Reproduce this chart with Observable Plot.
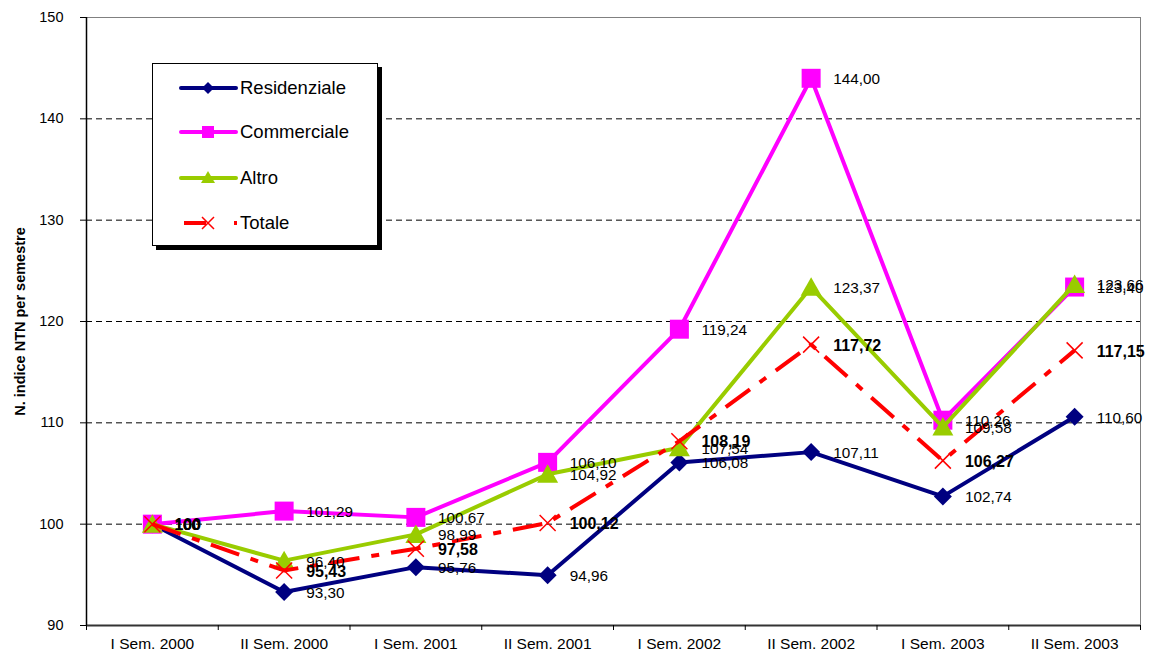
<!DOCTYPE html>
<html>
<head>
<meta charset="utf-8">
<script src="https://cdn.jsdelivr.net/npm/d3@7"></script>
<script src="https://cdn.jsdelivr.net/npm/@observablehq/plot@0.6"></script>
<style>
  html, body { margin: 0; padding: 0; background: #fff; }
  #wrap { position: relative; width: 1151px; height: 658px; font-family: "Liberation Sans", Arial, sans-serif; }
  #legend { position: absolute; left: 152px; top: 63px; width: 224px; height: 181px; border: 1px solid #000; background: #fff; box-shadow: 4px 4px 0 #000; }
  #legend .row { position: absolute; left: 0; height: 30px; display: flex; align-items: center; }
  #legend .row span { font-size: 18.5px; color: #000; margin-left: 1px; }
</style>
</head>
<body>
<div id="wrap"><div id="legend"></div></div>
<script>
const categories = ["I Sem. 2000","II Sem. 2000","I Sem. 2001","II Sem. 2001","I Sem. 2002","II Sem. 2002","I Sem. 2003","II Sem. 2003"];
const residenziale = [100, 93.30, 95.76, 94.96, 106.08, 107.11, 102.74, 110.60];
const commerciale = [100, 101.29, 100.67, 106.10, 119.24, 144.00, 110.26, 123.40];
const altro = [100, 96.40, 98.99, 104.92, 107.54, 123.37, 109.58, 123.66];
const totale = [100, 95.43, 97.58, 100.12, 108.19, 117.72, 106.27, 117.15];
const seriesNames = ["Residenziale", "Commerciale", "Altro", "Totale"];
const yTicks = [90, 100, 110, 120, 130, 140, 150];
const gridTicks = [100, 110, 120, 130, 140];

const fmt = v => v === 100 ? "100" : v.toFixed(2).replace(".", ",");

// custom symbols (size = pi r^2)
const rOf = s => Math.sqrt(s / Math.PI);
const diamondSym = {draw(c, s) { const r = rOf(s); c.moveTo(0, -r); c.lineTo(r, 0); c.lineTo(0, r); c.lineTo(-r, 0); c.closePath(); }};
const squareSym = {draw(c, s) { const r = rOf(s); c.rect(-r, -r, 2 * r, 2 * r); }};
const triangleSym = {draw(c, s) { const r = rOf(s); c.moveTo(0, -r); c.lineTo(r * 1.05, r * 0.85); c.lineTo(-r * 1.05, r * 0.85); c.closePath(); }};
const timesSym = {draw(c, s) { const r = rOf(s); c.moveTo(-r, -r); c.lineTo(r, r); c.moveTo(r, -r); c.lineTo(-r, r); }};

const toRows = arr => arr.map((v, i) => ({i, v}));
const resRows = toRows(residenziale), comRows = toRows(commerciale), altRows = toRows(altro), totRows = toRows(totale);

const boundaries = d3.range(-0.5, categories.length, 1);

const chart = Plot.plot({
  width: 1151,
  height: 658,
  marginLeft: 86,
  marginRight: 11,
  marginTop: 17,
  marginBottom: 33,
  style: {fontFamily: "'Liberation Sans', Arial, sans-serif", fontSize: "15px", color: "#000", background: "#fff"},
  x: {type: "linear", domain: [-0.5, categories.length - 0.5]},
  y: {domain: [90, 150]},
  marks: [
    Plot.ruleY(gridTicks, {stroke: "#000", strokeWidth: 1, strokeDasharray: "6,4"}),
    Plot.frame({stroke: "#808080", strokeWidth: 1}),
    Plot.ruleY([90], {stroke: "#333", strokeWidth: 2}),
    Plot.ruleX([-0.5], {stroke: "#000", strokeWidth: 1.5}),
    Plot.axisY({ticks: yTicks, tickSize: 6, tickPadding: 17, label: null, fontSize: 14.5}),
    Plot.axisX({ticks: boundaries, tickSize: 5, tickFormat: () => "", label: null}),
    Plot.axisX({ticks: d3.range(categories.length), tickSize: 0, tickPadding: 12, tickFormat: i => categories[i], label: null, fontSize: 15.5}),
    Plot.text(["N. indice NTN per semestre"], {frameAnchor: "left", textAnchor: "middle", rotate: -90, dx: -66, dy: 0, fontWeight: "bold", fontSize: 14.5}),
    // lines
    Plot.line(resRows, {x: "i", y: "v", stroke: "#000080", strokeWidth: 4}),
    Plot.dot(resRows, {x: "i", y: "v", symbol: diamondSym, r: 9, fill: "#000080", stroke: "none"}),
    Plot.line(comRows, {x: "i", y: "v", stroke: "#FF00FF", strokeWidth: 4}),
    Plot.dot(comRows, {x: "i", y: "v", symbol: squareSym, r: 9.5, fill: "#FF00FF", stroke: "none"}),
    Plot.line(altRows, {x: "i", y: "v", stroke: "#99CC00", strokeWidth: 4}),
    Plot.dot(altRows, {x: "i", y: "v", symbol: triangleSym, r: 10, fill: "#99CC00", stroke: "none"}),
    Plot.line(totRows, {x: "i", y: "v", stroke: "#FF0000", strokeWidth: 4, strokeDasharray: "30,12,8,12", strokeLinecap: "butt"}),
    Plot.dot(totRows, {x: "i", y: "v", symbol: timesSym, r: 8, fill: "none", stroke: "#FF0000", strokeWidth: 1.5}),
    // labels
    Plot.text(resRows, {x: "i", y: "v", text: d => fmt(d.v), textAnchor: "start", dx: 22, dy: 1, fill: "#000", fontSize: 15.3}),
    Plot.text(comRows, {x: "i", y: "v", text: d => fmt(d.v), textAnchor: "start", dx: 22, dy: 1, fill: "#000", fontSize: 15.3}),
    Plot.text(altRows, {x: "i", y: "v", text: d => fmt(d.v), textAnchor: "start", dx: 22, dy: 1, fill: "#000", fontSize: 15.3}),
    Plot.text(totRows, {x: "i", y: "v", text: d => fmt(d.v), textAnchor: "start", dx: 22, dy: 1, fill: "#000", fontSize: 16, fontWeight: "bold"})
  ]
});
chart.style.position = "absolute";
chart.style.left = "0px";
chart.style.top = "0px";
const wrap = document.getElementById("wrap");
wrap.insertBefore(chart, wrap.firstChild);

// legend
const legendSpecs = [
  {name: seriesNames[0], color: "#000080", sym: "diamond"},
  {name: seriesNames[1], color: "#FF00FF", sym: "square"},
  {name: seriesNames[2], color: "#99CC00", sym: "triangle"},
  {name: seriesNames[3], color: "#FF0000", sym: "times"}
];
const rowTops = [9, 53, 99, 144];
const legend = d3.select("#legend");
legendSpecs.forEach((s, k) => {
  const row = legend.append("div").attr("class", "row").style("top", rowTops[k] + "px");
  const svg = row.append("svg").attr("width", 86).attr("height", 30);
  const cy = 15, cx = 55;
  const line = svg.append("line").attr("x1", 28).attr("x2", 83).attr("y1", cy).attr("y2", cy)
    .attr("stroke", s.color).attr("stroke-width", 4).attr("stroke-linecap", "round");
  if (s.sym === "diamond") {
    svg.append("path").attr("d", `M${cx},${cy-6}L${cx+6},${cy}L${cx},${cy+6}L${cx-6},${cy}Z`).attr("fill", s.color);
  } else if (s.sym === "square") {
    svg.append("rect").attr("x", cx - 6).attr("y", cy - 6).attr("width", 12).attr("height", 12).attr("fill", s.color);
  } else if (s.sym === "triangle") {
    svg.append("path").attr("d", `M${cx},${cy-7}L${cx+7},${cy+5}L${cx-7},${cy+5}Z`).attr("fill", s.color);
  } else {
    line.attr("x1", 31).attr("x2", 84).attr("stroke-linecap", "butt").attr("stroke-dasharray", "22,28,3");
    svg.append("path").attr("d", `M${cx-6},${cy-6}L${cx+6},${cy+6}M${cx+6},${cy-6}L${cx-6},${cy+6}`)
      .attr("stroke", s.color).attr("stroke-width", 1.5).attr("fill", "none");
  }
  row.append("span").text(s.name);
});
</script>
</body>
</html>
